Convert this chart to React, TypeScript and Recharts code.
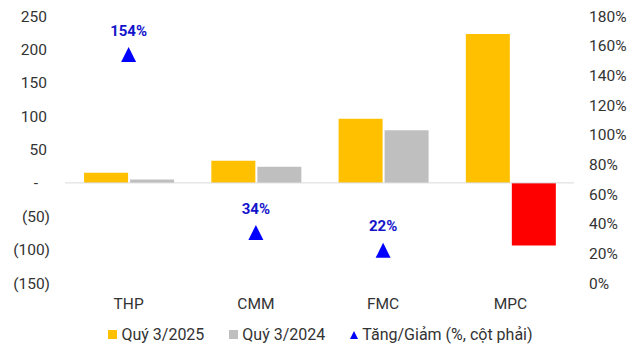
import { ComposedChart, Bar, Line, XAxis, YAxis, ReferenceLine, Cell, LabelList } from 'recharts'

const categories = ['THP', 'CMM', 'FMC', 'MPC']
const q3_2025 = [15, 33, 96, 223]
const q3_2024 = [5, 24, 79, -94]
const changePct: (number | null)[] = [154, 34, 22, null]

const leftTicks = [-150, -100, -50, 0, 50, 100, 150, 200, 250]
const rightTicks = [0, 20, 40, 60, 80, 100, 120, 140, 160, 180]

const GOLD = '#FFC000'
const GRAY = '#BFBFBF'
const RED = '#FF0000'
const BLUE = '#0000FF'
const FONT = 'Roboto, sans-serif'

const data = categories.map((name, i) => ({
  name,
  q2025: q3_2025[i],
  q2024: q3_2024[i],
  pct: changePct[i],
}))

// accounting style ticks: "-" for zero, (x) for negatives
function LeftTick(props: any) {
  const { x, y, payload } = props
  const v = payload.value
  let text = String(v)
  let tx = x - 3
  let anchor = 'end'
  if (v < 0) {
    text = `(${-v})`
    tx = x
  } else if (v === 0) {
    text = '-'
    tx = x - 14
    anchor = 'middle'
  }
  return (
    <text x={tx} y={y} dy="0.355em" textAnchor={anchor} fill="#333" fontSize={15.5} fontFamily={FONT}>
      {text}
    </text>
  )
}

function Triangle(props: any) {
  const { cx, cy, value } = props
  if (value == null || cx == null || cy == null) return <g key={props.index} />
  return (
    <polygon
      key={props.index}
      points={`${cx},${cy - 7.5} ${cx - 7.5},${cy + 7.5} ${cx + 7.5},${cy + 7.5}`}
      fill={BLUE}
    />
  )
}

function PctLabel(props: any) {
  const { x, y, value } = props
  if (value == null) return null
  return (
    <text x={x} y={y - 19} textAnchor="middle" fill="#1414CC" fontSize={15} fontWeight="bold" fontFamily={FONT}>
      {`${value}%`}
    </text>
  )
}

function LegendRow() {
  const item = { display: 'flex', alignItems: 'center', marginRight: 25 } as const
  return (
    <div
      style={{
        position: 'absolute',
        top: 325,
        left: 0,
        width: 636,
        display: 'flex',
        justifyContent: 'center',
        fontFamily: FONT,
        fontSize: 16,
        color: '#333',
        paddingLeft: 5,
        boxSizing: 'border-box',
      }}
    >
      <span style={item}>
        <span style={{ width: 9, height: 9, background: GOLD, marginRight: 4 }} />
        Quý 3/2025
      </span>
      <span style={item}>
        <span style={{ width: 9, height: 9, background: GRAY, marginRight: 4 }} />
        Quý 3/2024
      </span>
      <span style={{ ...item, marginRight: 0 }}>
        <svg width={8} height={8} style={{ marginRight: 4 }}>
          <polygon points="4,0 0,8 8,8" fill={BLUE} />
        </svg>
        Tăng/Giảm (%, cột phải)
      </span>
    </div>
  )
}

export default function App() {
  return (
    <div style={{ position: 'absolute', left: 0, top: 0, width: 636, height: 357, background: '#fff' }}>
      <ComposedChart
        width={636}
        height={357}
        data={data}
        margin={{ top: 16, right: 8, bottom: 34, left: 8 }}
        barCategoryGap="15%"
        barGap={2}
        style={{ fontFamily: FONT }}
      >
        <XAxis
          dataKey="name"
          axisLine={false}
          tickLine={false}
          tickSize={0}
          tickMargin={15}
          height={40}
          tick={{ fill: '#333', fontSize: 15.5, fontFamily: FONT }}
        />
        <YAxis
          yAxisId="left"
          orientation="left"
          domain={[-150, 250]}
          ticks={leftTicks}
          width={57}
          axisLine={false}
          tickLine={false}
          tickSize={0}
          tickMargin={15}
          tick={<LeftTick />}
          interval={0}
        />
        <YAxis
          yAxisId="right"
          orientation="right"
          domain={[0, 180]}
          ticks={rightTicks}
          width={54}
          axisLine={false}
          tickLine={false}
          tickSize={0}
          tickMargin={15}
          tickFormatter={(v: number) => `${v}%`}
          tick={{ fill: '#333', fontSize: 15.5, fontFamily: FONT }}
          interval={0}
        />
        <ReferenceLine yAxisId="left" y={0} stroke="#D9D9D9" strokeWidth={1} />
        <Bar yAxisId="left" dataKey="q2025" name="Quý 3/2025" fill={GOLD} isAnimationActive={false} />
        <Bar yAxisId="left" dataKey="q2024" name="Quý 3/2024" fill={GRAY} isAnimationActive={false}>
          {data.map((d, i) => (
            <Cell key={i} fill={d.q2024 < 0 ? RED : GRAY} />
          ))}
        </Bar>
        <Line
          yAxisId="right"
          dataKey="pct"
          name="Tăng/Giảm (%, cột phải)"
          stroke="none"
          dot={<Triangle />}
          activeDot={false}
          connectNulls={false}
          isAnimationActive={false}
        >
          <LabelList dataKey="pct" content={<PctLabel />} />
        </Line>
      </ComposedChart>
      <LegendRow />
    </div>
  )
}
